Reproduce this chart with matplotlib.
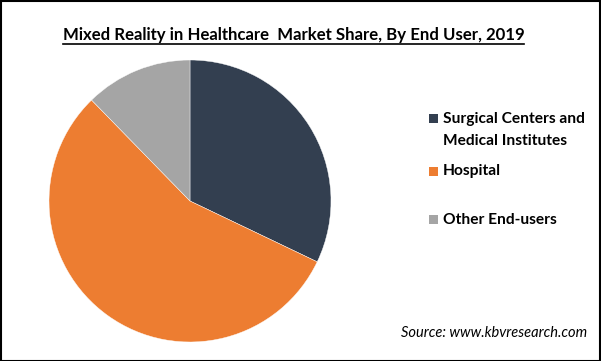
import matplotlib
matplotlib.use("Agg")
import matplotlib.pyplot as plt
import matplotlib.patches as mpatches

# data
labels = ["Surgical Centers and\nMedical Institutes", "Hospital", "Other End-users"]
shares = [32.1, 55.6, 12.3]
colors = ["#333F50", "#ED7D31", "#A5A5A5"]

W, H = 601, 361
fig = plt.figure(figsize=(W / 100, H / 100), dpi=100)
fig.patch.set_facecolor("white")

# pie axes: centre (190, 201) px, radius 141 px
cx, cy, r = 190, 201, 141
ax = fig.add_axes([(cx - r) / W, (H - cy - r) / H, 2 * r / W, 2 * r / H])
ax.pie(shares, colors=colors, startangle=90, counterclock=False, radius=1,
       wedgeprops=dict(linewidth=0.3, edgecolor="white"))
ax.set_xlim(-1, 1)
ax.set_ylim(-1, 1)
ax.set_aspect("auto")
ax.axis("off")

# title (bold + underlined)
title = "Mixed Reality in Healthcare  Market Share, By End User, 2019"
t = fig.text(293.5 / W, 1 - 35 / H, title, ha="center", va="center",
             fontsize=12.1, fontweight="bold", family="Lato")
fig.canvas.draw()
bb = t.get_window_extent()
fig.add_artist(plt.Line2D([bb.x0 / W, bb.x1 / W], [(bb.y0 - 1) / H, (bb.y0 - 1) / H],
                          color="black", linewidth=1.2, transform=fig.transFigure))

# legend, drawn by hand to match the layout
ys = [118, 171, 219]
for lab, col, y in zip(labels, colors, ys):
    fig.add_artist(mpatches.Rectangle(((429) / W, 1 - (y + 4.5) / H), 9 / W, 9 / H,
                                      facecolor=col, edgecolor="none",
                                      transform=fig.transFigure))
    fig.text(443 / W, 1 - (y - 6.5) / H, lab, ha="left", va="top", fontsize=11.2,
             fontweight="bold", family="Lato", linespacing=1.8)

fig.text(587 / W, 1 - 333 / H, "Source: www.kbvresearch.com", ha="right", va="center",
         fontsize=10.5, style="italic", family="Lato")

# outer frame
fig.add_artist(mpatches.Rectangle((0.5 / W, 0.5 / H), 1 - 1.5 / W, 1 - 1.5 / H, fill=False,
                                  edgecolor="black", linewidth=1.5, transform=fig.transFigure))

fig.savefig("out.png", dpi=100, facecolor="white")
